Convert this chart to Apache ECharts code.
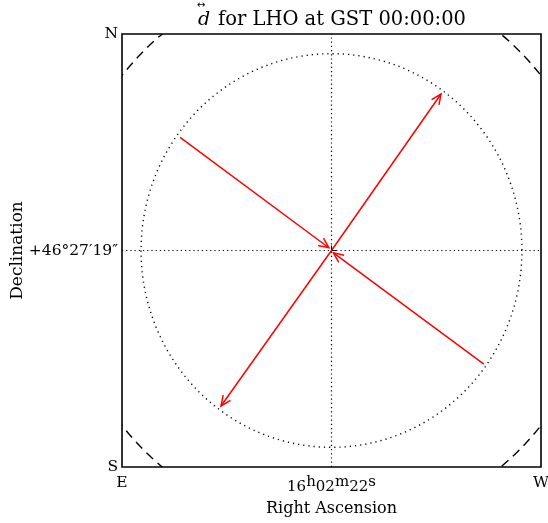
<!DOCTYPE html>
<html>
<head>
<meta charset="utf-8">
<script src="https://cdn.jsdelivr.net/npm/echarts@6/dist/echarts.min.js"></script>
<style>html,body{margin:0;padding:0;background:#fff;}#c{width:548px;height:523px;}</style>
</head>
<body>
<div id="c"></div>
<script>
// ---- data ----
var axisMin = -1.1, axisMax = 1.1;
var xTickValues = [-1.1, 0, 1.1];
var xTickLabels = ['E', '{n|16}{u|h}{n|02}{u|m}{n|22}{u|s}', 'W'];
var yTickValues = [-1.1, 0, 1.1];
var yTickLabels = ['S', '+46°27′19″', 'N'];
var circleRadii = [1.0, 1.4142];
var circleDash = [[1.2, 4], [9, 6]];
var arrowStartX = [-0.795, 0.800, 0, 0];
var arrowStartY = [0.575, -0.577, 0, 0];
var arrowEndX = [-0.014, 0.010, 0.575, -0.580];
var arrowEndY = [0.014, -0.012, 0.795, -0.790];
var titleText = 'for LHO at GST 00:00:00';
var xName = 'Right Ascension';
var yName = 'Declination';

var FONT = 'DejaVu Serif';

function labelFor(values, labels) {
  return function (v) {
    for (var i = 0; i < values.length; i++) if (Math.abs(values[i] - v) < 1e-9) return labels[i];
    return '';
  };
}

var arrowData = arrowStartX.map(function (x, i) { return [x, arrowStartY[i], arrowEndX[i], arrowEndY[i]]; });
var circleData = circleRadii.map(function (r, i) { return [0, 0, r, i]; });

var chart = echarts.init(document.getElementById('c'), null, {renderer: 'canvas'});
var option = {
  animation: false,
  backgroundColor: '#fff',
  grid: {left: 122, top: 34, width: 419, height: 433, show: true, borderColor: '#000', borderWidth: 1.6,
    backgroundColor: 'transparent', outerBoundsMode: 'none', containLabel: false},
  xAxis: {
    type: 'value', min: axisMin, max: axisMax,
    axisLine: {show: false},
    splitLine: {show: false},
    axisTick: {show: true, inside: true, length: 5, customValues: [0], lineStyle: {color: '#000'}},
    axisLabel: {
      customValues: xTickValues, showMinLabel: true, showMaxLabel: true, margin: 8,
      color: '#000', fontFamily: FONT, fontSize: 15.5,
      formatter: labelFor(xTickValues, xTickLabels),
      rich: {
        n: {fontFamily: FONT, fontSize: 15, color: '#000', lineHeight: 24},
        u: {fontFamily: FONT, fontSize: 15, color: '#000', lineHeight: 14, verticalAlign: 'top'}
      }
    },
    name: xName, nameLocation: 'middle', nameGap: 34, nameMoveOverlap: false,
    nameTextStyle: {color: '#000', fontFamily: FONT, fontSize: 16}
  },
  yAxis: {
    type: 'value', min: axisMin, max: axisMax,
    axisLine: {show: false},
    splitLine: {show: false},
    axisTick: {show: true, inside: true, length: 5, customValues: [0], lineStyle: {color: '#000'}},
    axisLabel: {
      customValues: yTickValues, showMinLabel: true, showMaxLabel: true, margin: 4,
      color: '#000', fontFamily: FONT, fontSize: 15.5,
      formatter: labelFor(yTickValues, yTickLabels)
    },
    name: yName, nameLocation: 'middle', nameGap: 96, nameMoveOverlap: false,
    nameTextStyle: {color: '#000', fontFamily: FONT, fontSize: 17}
  },
  graphic: [
    {type: 'text', x: 198, y: 20, style: {text: 'd', font: 'italic 19px "' + FONT + '"', fill: '#000', verticalAlign: 'middle'}},
    {type: 'text', x: 197, y: 5, style: {text: '↔', font: '10px "DejaVu Sans"', fill: '#000', verticalAlign: 'middle'}},
    {type: 'text', x: 218, y: 20, style: {text: titleText, font: '19.5px "' + FONT + '"', fill: '#000', verticalAlign: 'middle'}}
  ],
  series: [
    {
      type: 'line', data: [[axisMin, 0], [axisMax, 0]], symbol: 'none', silent: true,
      lineStyle: {color: '#000', width: 1.2, type: [1.2, 3]}
    },
    {
      type: 'line', data: [[0, axisMin], [0, axisMax]], symbol: 'none', silent: true,
      lineStyle: {color: '#000', width: 1.2, type: [1.2, 3]}
    },
    {
      type: 'custom', silent: true,
      data: circleData,
      encode: {x: 0, y: 1},
      renderItem: function (params, api) {
        var c = api.coord([api.value(0), api.value(1)]);
        var r = api.value(2);
        var s = api.size([1, 1]);
        var rx = r * s[0], ry = r * s[1];
        var d = 'M' + (c[0] - rx) + ' ' + c[1] +
          ' A' + rx + ' ' + ry + ' 0 1 0 ' + (c[0] + rx) + ' ' + c[1] +
          ' A' + rx + ' ' + ry + ' 0 1 0 ' + (c[0] - rx) + ' ' + c[1];
        var cs = params.coordSys;
        return {
          type: 'path',
          shape: {pathData: d},
          style: {fill: 'none', stroke: '#000', lineWidth: 1.4, lineDash: circleDash[api.value(3)]},
          clipPath: {type: 'rect', shape: {x: cs.x, y: cs.y, width: cs.width, height: cs.height}}
        };
      }
    },
    {
      type: 'custom', silent: true,
      data: arrowData,
      encode: {x: [0, 2], y: [1, 3]},
      renderItem: function (params, api) {
        var p0 = api.coord([api.value(0), api.value(1)]);
        var p1 = api.coord([api.value(2), api.value(3)]);
        var a = Math.atan2(p1[1] - p0[1], p1[0] - p0[0]);
        var L = 10, W = 4.5;
        var bx = p1[0] - L * Math.cos(a), by = p1[1] - L * Math.sin(a);
        var h1 = [bx + W * Math.sin(a), by - W * Math.cos(a)];
        var h2 = [bx - W * Math.sin(a), by + W * Math.cos(a)];
        var st = {stroke: '#ff0000', lineWidth: 1.5, fill: 'none'};
        return {
          type: 'group',
          children: [
            {type: 'line', shape: {x1: p0[0], y1: p0[1], x2: p1[0], y2: p1[1]}, style: st},
            {type: 'polyline', shape: {points: [h1, p1, h2]}, style: st}
          ]
        };
      }
    }
  ]
};
chart.setOption(option);
</script>
</body>
</html>
